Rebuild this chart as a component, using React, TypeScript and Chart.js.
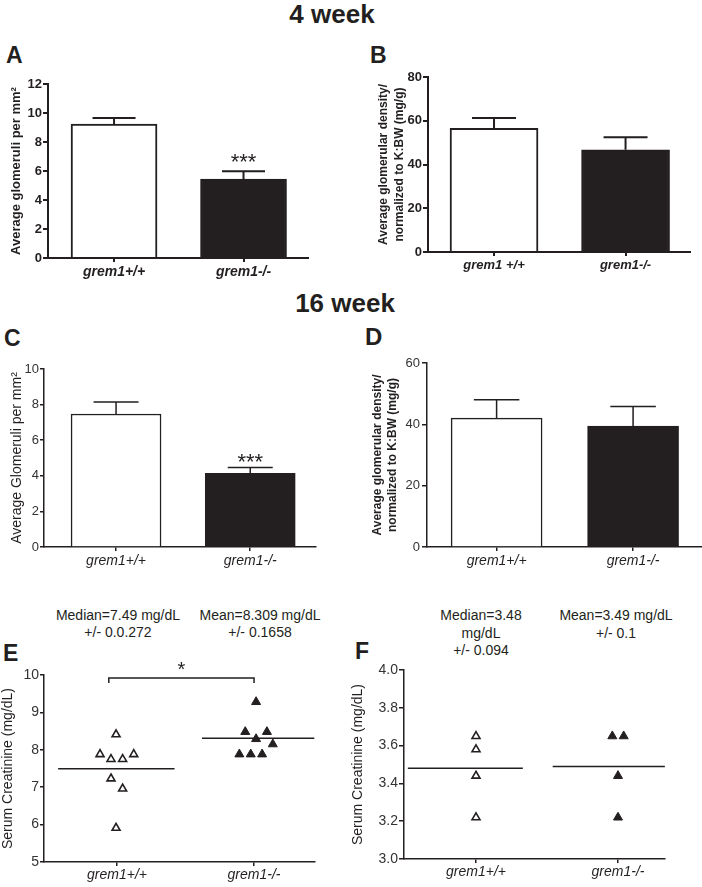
import React, { useEffect, useRef } from 'react';
import { Chart, registerables } from 'chart.js';

Chart.register(...registerables);

const INK = '#231f20';
const FONT = '"Liberation Sans", Arial, Helvetica, sans-serif';

// ---------------- data ----------------
const genotypes = ['grem1+/+', 'grem1-/-'];
const genotypesB = ['grem1 +/+', 'grem1-/-'];

// 4 week
const aMean = [9.24, 5.45];
const aSem = [0.42, 0.53];
const bMean = [56.5, 46.7];
const bSem = [4.8, 5.8];
// 16 week
const cMean = [7.47, 4.14];
const cSem = [0.68, 0.32];
const dMean = [42.0, 39.4];
const dSem = [6.0, 6.4];

// serum creatinine E
const eWildType = [8.41, 7.88, 7.75, 7.75, 7.88, 7.23, 6.96, 5.91];
const eWildJitter = [-0.007, -0.124, -0.044, 0.041, 0.122, -0.044, 0.041, -0.007];
const eKnockout = [9.28, 8.48, 8.48, 8.29, 8.15, 7.88, 7.88, 7.88];
const eKnockoutJitter = [0.015, -0.064, 0.094, 0.015, 0.137, -0.107, -0.024, 0.059];
const eCenter = [7.49, 8.309];

// serum creatinine F
const fWildType = [3.65, 3.58, 3.44, 3.22];
const fWildJitter = [0, 0, 0, 0];
const fKnockout = [3.65, 3.65, 3.44, 3.22];
const fKnockoutJitter = [-0.04, 0.04, 0, 0];
const fCenter = [3.48, 3.49];

// ---------------- helpers ----------------
type Rect = [number, number, number, number];

function geometry(rect: Rect, area: Rect) {
  const [x, y, w, h] = rect;
  const [l, t, r, b] = area;
  return {
    padding: { left: 0, top: t - y, right: x + w - r, bottom: 0 },
    yWidth: l - x,
    xHeight: y + h - b,
  };
}

function xAxis(g: any, o: any) {
  return {
    type: 'linear',
    min: o.min,
    max: o.max,
    offset: false,
    afterBuildTicks: (s: any) => {
      s.ticks = [{ value: 0 }, { value: 1 }];
    },
    afterFit: (s: any) => {
      s.height = g.xHeight;
    },
    ticks: {
      autoSkip: false,
      maxRotation: 0,
      color: INK,
      padding: o.tickPad,
      font: o.font,
      callback: (_v: any, i: number) => o.labels[i],
    },
    grid: {
      display: true,
      offset: false,
      drawOnChartArea: false,
      drawTicks: true,
      tickLength: o.tickLen,
      color: INK,
      lineWidth: o.lw,
    },
    border: { display: true, color: INK, width: o.lw },
  };
}

function yAxis(g: any, o: any) {
  return {
    type: 'linear',
    min: o.min,
    max: o.max,
    afterFit: (s: any) => {
      s.width = g.yWidth;
    },
    ticks: {
      stepSize: o.step,
      autoSkip: false,
      color: o.tickColor,
      padding: o.tickPad,
      font: o.tickFont,
      callback: o.fmt,
    },
    grid: {
      display: true,
      drawOnChartArea: false,
      drawTicks: true,
      tickLength: o.tickLen,
      color: INK,
      lineWidth: o.lw,
    },
    border: { display: true, color: INK, width: o.lw },
    title: {
      display: true,
      text: o.title,
      color: INK,
      font: o.titleFont,
      padding: { top: o.titlePad, bottom: 0 },
    },
  };
}

function errorBarPlugin(sems: number[], lw: number, capFrac: number, star?: any) {
  return {
    id: 'errorBars',
    afterDatasetsDraw(chart: any) {
      const meta = chart.getDatasetMeta(0);
      const ys = chart.scales.y;
      const ctx = chart.ctx;
      const data = chart.data.datasets[0].data;
      ctx.save();
      ctx.strokeStyle = INK;
      ctx.lineWidth = lw;
      meta.data.forEach((el: any, i: number) => {
        const top = ys.getPixelForValue(data[i].y + sems[i]);
        const half = (el.width * capFrac) / 2;
        ctx.beginPath();
        ctx.moveTo(el.x, el.y);
        ctx.lineTo(el.x, top);
        ctx.moveTo(el.x - half, top);
        ctx.lineTo(el.x + half, top);
        ctx.stroke();
        if (star && star.index === i) {
          ctx.fillStyle = INK;
          ctx.font = star.font;
          ctx.textAlign = 'center';
          ctx.textBaseline = 'alphabetic';
          ctx.fillText(star.text, el.x, top + star.dy);
        }
      });
      ctx.restore();
    },
  };
}

function bracketPlugin(o: any) {
  return {
    id: 'bracket',
    afterDraw(chart: any) {
      const xs = chart.scales.x;
      const ys = chart.scales.y;
      const ctx = chart.ctx;
      const x1 = xs.getPixelForValue(o.from);
      const x2 = xs.getPixelForValue(o.to);
      const y = ys.getPixelForValue(o.y);
      ctx.save();
      ctx.strokeStyle = INK;
      ctx.lineWidth = 1.5;
      ctx.beginPath();
      ctx.moveTo(x1, y + o.drop);
      ctx.lineTo(x1, y);
      ctx.lineTo(x2, y);
      ctx.lineTo(x2, y + o.drop);
      ctx.stroke();
      ctx.fillStyle = INK;
      ctx.font = o.font;
      ctx.textAlign = 'center';
      ctx.textBaseline = 'alphabetic';
      ctx.fillText(o.text, (x1 + x2) / 2, y + o.textDy);
      ctx.restore();
    },
  };
}

function barConfig(o: any) {
  const g = geometry(o.rect, o.area);
  return {
    type: 'bar',
    data: {
      datasets: [
        {
          data: o.means.map((v: number, i: number) => ({ x: i, y: v })),
          backgroundColor: ['#ffffff', INK],
          borderColor: INK,
          borderWidth: o.barBorder,
          barThickness: o.barWidth,
        },
      ],
    },
    options: {
      responsive: false,
      animation: false,
      devicePixelRatio: 1,
      events: [],
      layout: { padding: g.padding },
      plugins: { legend: { display: false }, tooltip: { enabled: false } },
      scales: {
        x: xAxis(g, o.x),
        y: yAxis(g, o.y),
      },
    },
    plugins: [errorBarPlugin(o.sems, o.errLw, 0.5, o.star)],
  };
}

function pts(vals: number[], jit: number[], center: number) {
  return vals.map((v, i) => ({ x: center + jit[i], y: v }));
}

function scatterConfig(o: any) {
  const g = geometry(o.rect, o.area);
  const lineDs = (c: number, y: number, ext: number[]) => ({
    data: [
      { x: c + ext[0], y },
      { x: c + ext[1], y },
    ],
    showLine: true,
    borderColor: INK,
    borderWidth: 1.5,
    pointRadius: 0,
  });
  return {
    type: 'scatter',
    data: {
      datasets: [
        lineDs(0, o.centers[0], o.ext[0]),
        lineDs(1, o.centers[1], o.ext[1]),
        {
          data: pts(o.wild, o.wildJit, 0),
          pointStyle: 'triangle',
          pointRadius: 4.6,
          backgroundColor: '#ffffff',
          borderColor: INK,
          borderWidth: 1.6,
        },
        {
          data: pts(o.ko, o.koJit, 1),
          pointStyle: 'triangle',
          pointRadius: 5.2,
          backgroundColor: INK,
          borderColor: INK,
          borderWidth: 1,
        },
      ],
    },
    options: {
      responsive: false,
      animation: false,
      devicePixelRatio: 1,
      events: [],
      layout: { padding: g.padding },
      plugins: { legend: { display: false }, tooltip: { enabled: false } },
      scales: {
        x: xAxis(g, o.x),
        y: yAxis(g, o.y),
      },
    },
    plugins: o.bracket ? [bracketPlugin(o.bracket)] : [],
  };
}

function ChartCanvas({ rect, make }: { rect: Rect; make: () => any }) {
  const ref = useRef<HTMLCanvasElement>(null);
  useEffect(() => {
    const chart = new Chart(ref.current as HTMLCanvasElement, make() as any);
    return () => chart.destroy();
  }, []);
  const [x, y, w, h] = rect;
  return (
    <canvas
      ref={ref}
      width={w}
      height={h}
      style={{ position: 'absolute', left: x, top: y, width: w, height: h }}
    />
  );
}

function Txt(p: any) {
  const w = p.w ?? 220;
  return (
    <div
      style={{
        position: 'absolute',
        left: p.x - w / 2,
        top: p.y,
        width: w,
        textAlign: 'center',
        fontSize: p.size,
        fontWeight: p.weight ?? 'normal',
        lineHeight: `${p.lh}px`,
        whiteSpace: 'pre',
      }}
    >
      {p.children}
    </div>
  );
}

function Letter(p: any) {
  return (
    <div
      style={{
        position: 'absolute',
        left: p.x,
        top: p.y,
        fontSize: p.size ?? 23,
        fontWeight: 'bold',
        lineHeight: `${p.size ?? 23}px`,
      }}
    >
      {p.children}
    </div>
  );
}

// ---------------- panel definitions ----------------
const boldTick = { family: FONT, size: 13, weight: 'bold' };
const normTick = { family: FONT, size: 13 };
const normTick14 = { family: FONT, size: 14 };
const italic14 = { family: FONT, size: 14, style: 'italic' };

const panelA = {
  rect: [0, 70, 330, 215] as Rect,
  area: [48, 84, 308, 258] as Rect,
};
const makeA = () =>
  barConfig({
    ...panelA,
    means: aMean,
    sems: aSem,
    barWidth: 86,
    barBorder: 2,
    errLw: 2,
    star: { index: 1, text: '***', font: `22px ${FONT}`, dy: -2 },
    x: {
      min: -0.51,
      max: 1.498,
      labels: genotypes,
      font: { family: FONT, size: 14, weight: 'bold', style: 'italic' },
      tickPad: 2,
      tickLen: 4,
      lw: 2,
    },
    y: {
      min: 0,
      max: 12,
      step: 2,
      tickColor: INK,
      tickPad: 1,
      tickLen: 5,
      tickFont: boldTick,
      fmt: (v: number) => String(v),
      lw: 2,
      title: 'Average glomeruli per mm\u00B2',
      titleFont: { family: FONT, size: 13, weight: 'bold' },
      titlePad: 9,
    },
  });

const panelB = {
  rect: [350, 65, 352, 215] as Rect,
  area: [428, 77, 690, 252] as Rect,
};
const makeB = () =>
  barConfig({
    ...panelB,
    means: bMean,
    sems: bSem,
    barWidth: 88,
    barBorder: 2,
    errLw: 2,
    x: {
      min: -0.502,
      max: 1.49,
      labels: genotypesB,
      font: { family: FONT, size: 13, weight: 'bold', style: 'italic' },
      tickPad: 2,
      tickLen: 4,
      lw: 2,
    },
    y: {
      min: 0,
      max: 80,
      step: 20,
      tickColor: INK,
      tickPad: 1,
      tickLen: 5,
      tickFont: boldTick,
      fmt: (v: number) => String(v),
      lw: 2,
      title: ['Average glomerular density/', 'normalized to K:BW (mg/g)'],
      titleFont: { family: FONT, size: 12, weight: 'bold', lineHeight: 1.3 },
      titlePad: 26,
    },
  });

const panelC = {
  rect: [0, 350, 330, 225] as Rect,
  area: [44, 369, 316, 547] as Rect,
};
const makeC = () =>
  barConfig({
    ...panelC,
    means: cMean,
    sems: cSem,
    barWidth: 90,
    barBorder: 1.5,
    errLw: 1.5,
    star: { index: 1, text: '***', font: `22px ${FONT}`, dy: 1 },
    x: {
      min: -0.537,
      max: 1.49,
      labels: genotypes,
      font: italic14,
      tickPad: 2,
      tickLen: 4,
      lw: 1.5,
    },
    y: {
      min: 0,
      max: 10,
      step: 2,
      tickColor: '#333333',
      tickPad: 1,
      tickLen: 4,
      tickFont: normTick,
      fmt: (v: number) => String(v),
      lw: 1.5,
      title: 'Average Glomeruli per mm\u00B2',
      titleFont: { family: FONT, size: 14 },
      titlePad: 8.6,
    },
  });

const panelD = {
  rect: [350, 350, 352, 225] as Rect,
  area: [427, 363, 702, 547] as Rect,
};
const makeD = () =>
  barConfig({
    ...panelD,
    means: dMean,
    sems: dSem,
    barWidth: 91,
    barBorder: 1.5,
    errLw: 1.5,
    x: {
      min: -0.51,
      max: 1.505,
      labels: genotypes,
      font: italic14,
      tickPad: 2,
      tickLen: 4,
      lw: 1.5,
    },
    y: {
      min: 0,
      max: 60,
      step: 20,
      tickColor: '#333333',
      tickPad: 2,
      tickLen: 5,
      tickFont: normTick,
      fmt: (v: number) => String(v),
      lw: 1.5,
      title: ['Average glomerular density/', 'normalized to K:BW (mg/g)'],
      titleFont: { family: FONT, size: 12, weight: 'bold', lineHeight: 1.25 },
      titlePad: 19.8,
    },
  });

const panelE = {
  rect: [0, 650, 330, 237] as Rect,
  area: [44, 675, 315, 862] as Rect,
};
const makeE = () =>
  scatterConfig({
    ...panelE,
    wild: eWildType,
    wildJit: eWildJitter,
    ko: eKnockout,
    koJit: eKnockoutJitter,
    centers: eCenter,
    ext: [
      [-0.43, 0.42],
      [-0.38, 0.44],
    ],
    bracket: { from: -0.06, to: 1.0, y: 9.92, drop: 5, text: '*', font: `20px ${FONT}`, textDy: -2 },
    x: {
      min: -0.533,
      max: 1.445,
      labels: genotypes,
      font: italic14,
      tickPad: 1,
      tickLen: 4,
      lw: 1.5,
    },
    y: {
      min: 5,
      max: 10,
      step: 1,
      tickColor: '#333333',
      tickPad: 1,
      tickLen: 4,
      tickFont: normTick14,
      fmt: (v: number) => String(v),
      lw: 1.5,
      title: 'Serum Creatinine (mg/dL)',
      titleFont: { family: FONT, size: 14 },
      titlePad: 0,
    },
  });

const panelF = {
  rect: [350, 650, 352, 237] as Rect,
  area: [404, 670, 665, 859] as Rect,
};
const makeF = () =>
  scatterConfig({
    ...panelF,
    wild: fWildType,
    wildJit: fWildJitter,
    ko: fKnockout,
    koJit: fKnockoutJitter,
    centers: fCenter,
    ext: [
      [-0.48, 0.33],
      [-0.46, 0.33],
    ],
    x: {
      min: -0.507,
      max: 1.331,
      labels: genotypes,
      font: italic14,
      tickPad: 1,
      tickLen: 4,
      lw: 1.5,
    },
    y: {
      min: 3,
      max: 4,
      step: 0.2,
      tickColor: '#333333',
      tickPad: 1,
      tickLen: 5,
      tickFont: normTick14,
      fmt: (v: number) => v.toFixed(1),
      lw: 1.5,
      title: 'Serum Creatinine (mg/dL)',
      titleFont: { family: FONT, size: 14 },
      titlePad: 0,
    },
  });

export default function App() {
  return (
    <div
      style={{
        position: 'absolute',
        left: 0,
        top: 0,
        width: 702,
        height: 887,
        background: '#ffffff',
        fontFamily: FONT,
        color: INK,
        overflow: 'hidden',
      }}
    >
      <Txt x={332} y={1} size={26} weight="bold" lh={26}>4 week</Txt>
      <Txt x={345} y={290} size={26} weight="bold" lh={26}>16 week</Txt>

      <Letter x={6} y={44}>A</Letter>
      <Letter x={370} y={44}>B</Letter>
      <Letter x={4} y={327}>C</Letter>
      <Letter x={365} y={325} size={24}>D</Letter>
      <Letter x={3} y={642}>E</Letter>
      <Letter x={355} y={640}>F</Letter>

      <Txt x={118} y={607} size={14} lh={17}>{'Median=7.49 mg/dL\n+/- 0.0.272'}</Txt>
      <Txt x={260} y={607} size={14} lh={17}>{'Mean=8.309 mg/dL\n+/- 0.1658'}</Txt>
      <Txt x={481} y={607} size={14} lh={17.5}>{'Median=3.48\nmg/dL\n+/- 0.094'}</Txt>
      <Txt x={616} y={607} size={14} lh={17.5}>{'Mean=3.49 mg/dL\n+/- 0.1'}</Txt>

      <ChartCanvas rect={panelA.rect} make={makeA} />
      <ChartCanvas rect={panelB.rect} make={makeB} />
      <ChartCanvas rect={panelC.rect} make={makeC} />
      <ChartCanvas rect={panelD.rect} make={makeD} />
      <ChartCanvas rect={panelE.rect} make={makeE} />
      <ChartCanvas rect={panelF.rect} make={makeF} />
    </div>
  );
}
